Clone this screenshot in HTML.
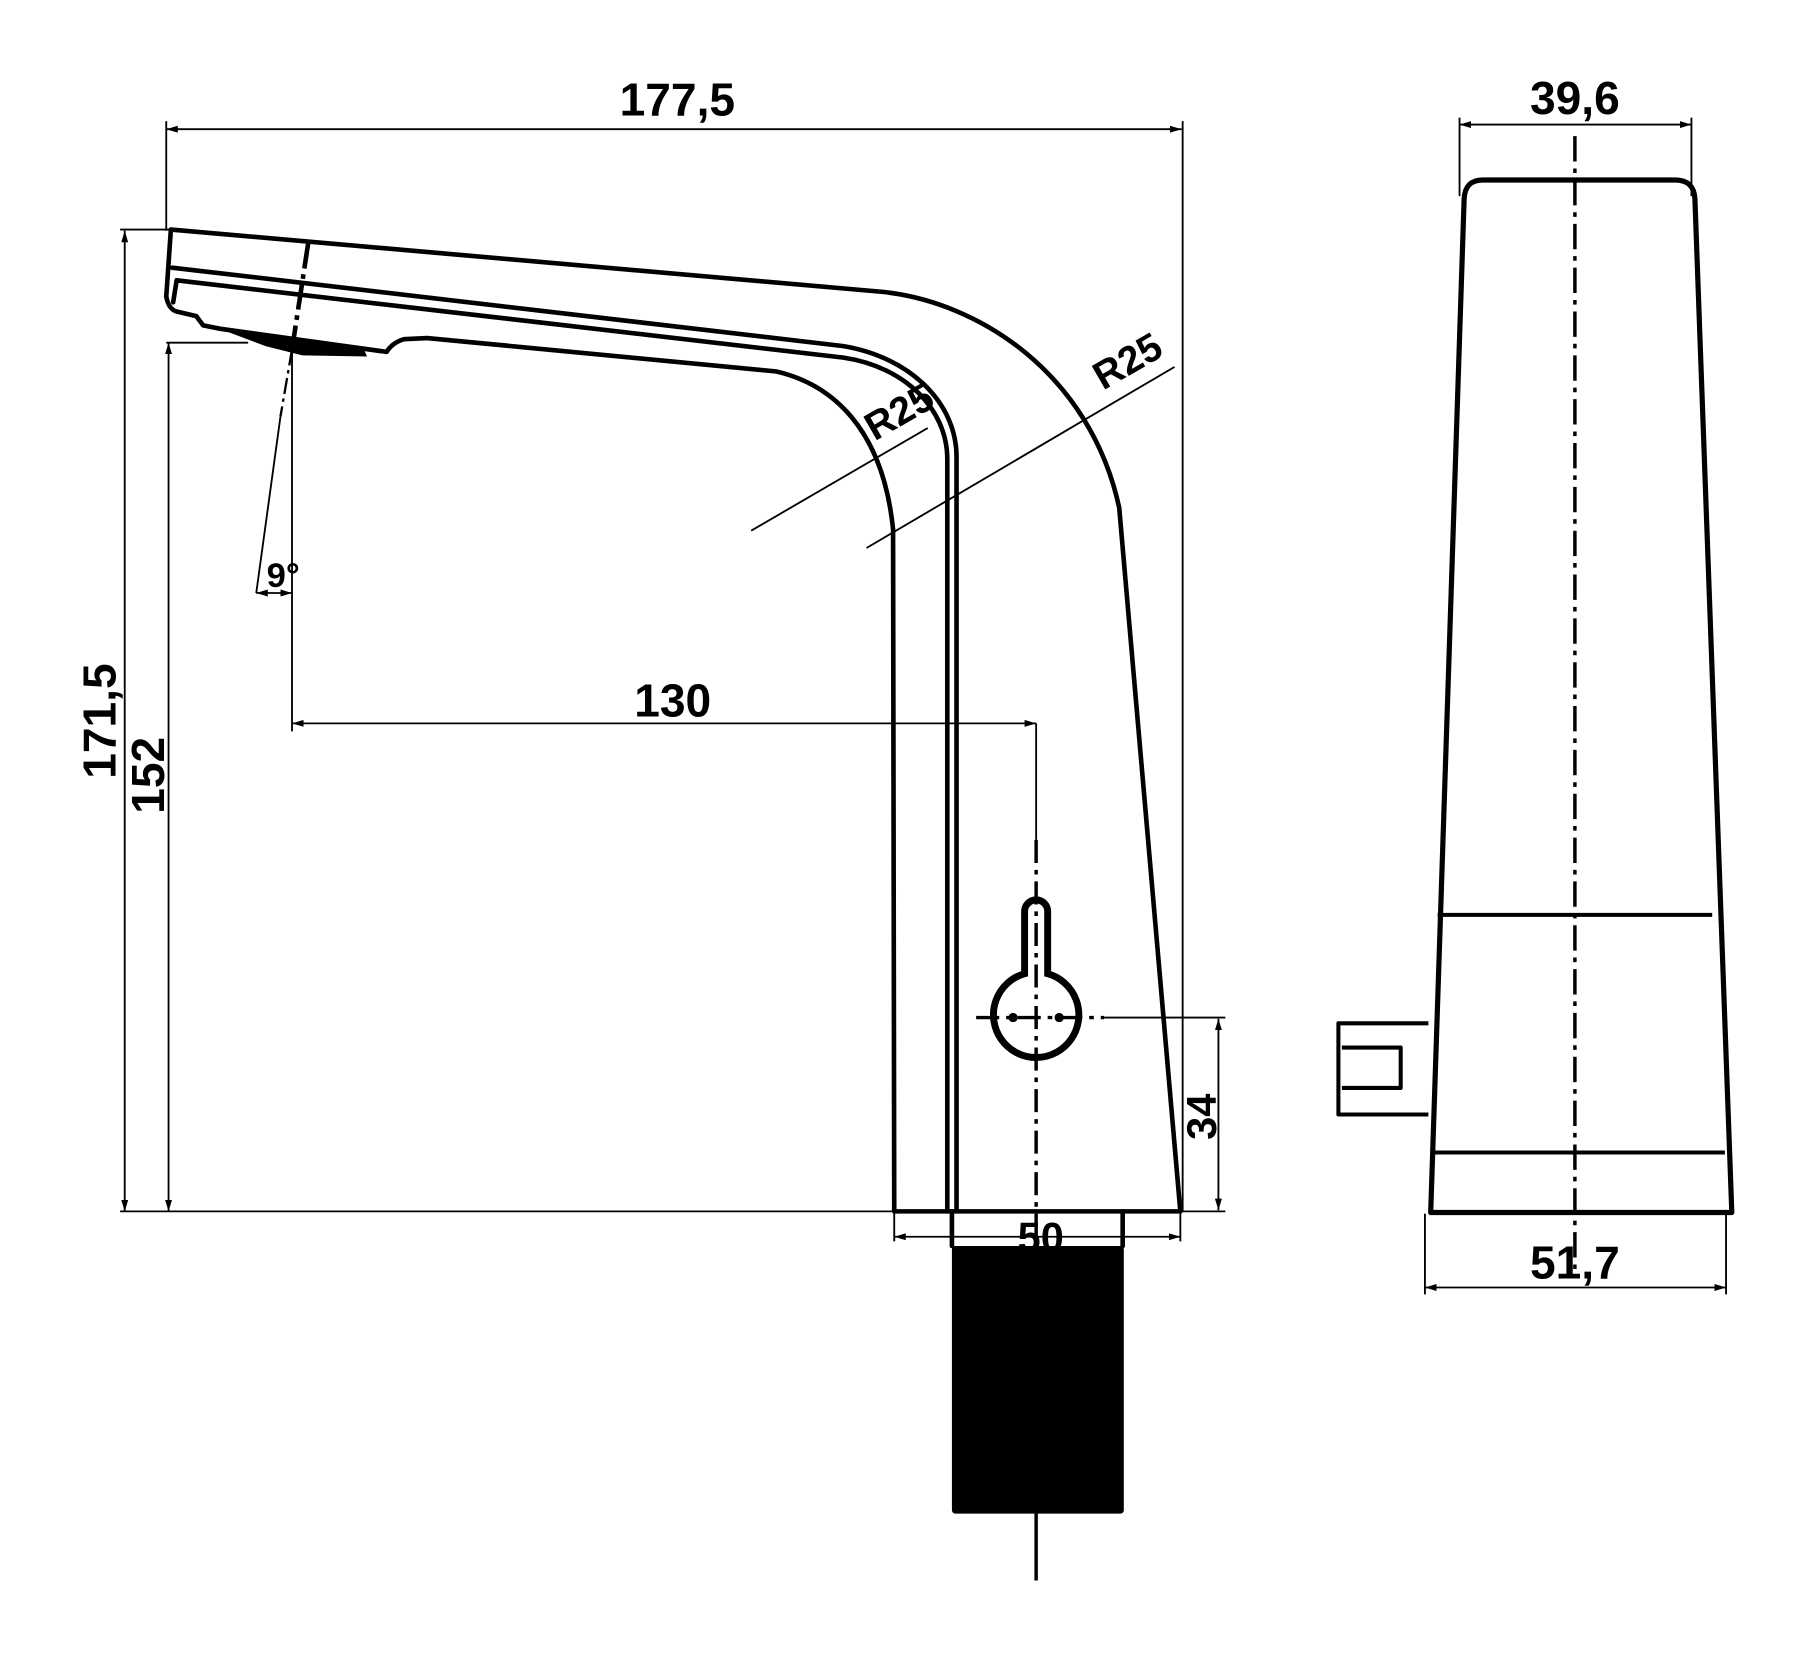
<!DOCTYPE html>
<html><head><meta charset="utf-8"><style>
html,body{margin:0;padding:0;background:#fff;}
svg{display:block;}
text{font-family:"Liberation Sans",Arial,sans-serif;fill:#000;font-weight:bold;}
</style></head><body>
<svg width="1800" height="1659" viewBox="0 0 1560 1438" xmlns="http://www.w3.org/2000/svg">
<defs>
<marker id="ar" viewBox="0 0 10 6" refX="10" refY="3" markerWidth="10" markerHeight="6" orient="auto-start-reverse" markerUnits="userSpaceOnUse"><path d="M0,0 L10,3 L0,6 z" fill="#000"/></marker>
</defs>
<rect width="1560" height="1438" fill="#fff"/>
<g fill="none" stroke="#000" stroke-width="1.6">
<line x1="144" y1="112" x2="1024" y2="112" marker-start="url(#ar)" marker-end="url(#ar)"/>
<line x1="144" y1="105" x2="144" y2="200"/>
<line x1="1025" y1="105" x2="1025" y2="1050"/>
<line x1="108" y1="200" x2="108" y2="1050" marker-start="url(#ar)" marker-end="url(#ar)"/>
<line x1="104" y1="199" x2="148" y2="199"/>
<line x1="146" y1="297" x2="146" y2="1050" marker-start="url(#ar)" marker-end="url(#ar)"/>
<line x1="144" y1="297" x2="215" y2="297"/>
<line x1="104" y1="1050" x2="775" y2="1050"/>
<line x1="253" y1="627" x2="898" y2="627" marker-start="url(#ar)" marker-end="url(#ar)"/>
<line x1="253" y1="303" x2="253" y2="634"/>
<line x1="898" y1="627" x2="898" y2="728"/>
<line x1="243" y1="361" x2="222" y2="514"/>
<line x1="222" y1="514" x2="253" y2="514" marker-start="url(#ar)" marker-end="url(#ar)"/>
<line x1="651" y1="460" x2="804" y2="371"/>
<line x1="751" y1="475" x2="1018" y2="318"/>
<line x1="957" y1="882" x2="1062" y2="882"/>
<line x1="1056" y1="883" x2="1056" y2="1049" marker-start="url(#ar)" marker-end="url(#ar)"/>
<line x1="1023" y1="1050" x2="1062" y2="1050"/>
<line x1="775" y1="1050" x2="775" y2="1076"/>
<line x1="775" y1="1072" x2="1023" y2="1072" marker-start="url(#ar)" marker-end="url(#ar)"/>
<line x1="1023" y1="1050" x2="1023" y2="1076"/>
<line x1="1265" y1="108" x2="1466" y2="108" marker-start="url(#ar)" marker-end="url(#ar)"/>
<line x1="1265" y1="102" x2="1265" y2="170"/>
<line x1="1466" y1="102" x2="1466" y2="170"/>
<line x1="1235" y1="1116" x2="1496" y2="1116" marker-start="url(#ar)" marker-end="url(#ar)"/>
<line x1="1235" y1="1052" x2="1235" y2="1122"/>
<line x1="1496" y1="1052" x2="1496" y2="1122"/>
</g>
<g fill="none" stroke="#000" stroke-width="4" stroke-linejoin="round" stroke-linecap="round">
<path d="M148,199 L765,253 C850,262 945,325 970,440 L1023,1050"/>
<path d="M148,199 L144,257 Q146,268 153,270 L170,274 L176,282 L191,285 L335,305 Q340,297 350,294 L370,293 L673,322 C720,333 765,370 774,459 L775,1050 L1023,1050"/>
<path d="M149,232 L731,300 C790,310 829,350 829,396 L829,1050"/>
<path d="M150,262 L153,243 L731,310 C785,318 821,355 821,398 L821,1050"/>
<line x1="825" y1="1050" x2="825" y2="1080"/>
<line x1="973" y1="1050" x2="973" y2="1080"/>
</g>
<polygon points="193,286 315,302 318,309 262,308 230,300" fill="#000"/>
<line x1="267" y1="211" x2="253" y2="303" stroke="#000" stroke-width="4" stroke-dasharray="22,5,4,5"/>
<line x1="253" y1="303" x2="243" y2="361" stroke="#000" stroke-width="2" stroke-dasharray="14,4,3,4"/>
<rect x="825" y="1080" width="149" height="232" rx="3" fill="#000"/>
<line x1="898" y1="1312" x2="898" y2="1370" stroke="#000" stroke-width="3"/>
<path d="M888,844 L888,790 A10,10 0 0 1 908,790 L908,844 A37,37 0 1 1 888,844 Z" fill="none" stroke="#000" stroke-width="6"/>
<line x1="898" y1="728" x2="898" y2="1312" stroke="#000" stroke-width="3" stroke-dasharray="20,6,4,6"/>
<line x1="846" y1="882" x2="957" y2="882" stroke="#000" stroke-width="3" stroke-dasharray="20,6,4,6"/>
<circle cx="878" cy="882" r="4" fill="#000"/><circle cx="918" cy="882" r="4" fill="#000"/>
<g fill="none" stroke="#000" stroke-width="4.5" stroke-linejoin="round">
<path d="M1240,1051 L1269,172 Q1270,156 1285,156 L1452,156 Q1468,156 1469,172 L1501,1051 Z"/>
<line x1="1246" y1="793" x2="1484" y2="793" stroke-width="3.5"/>
<line x1="1240" y1="999" x2="1495" y2="999" stroke-width="3.5"/>
<path d="M1238,887 L1160,887 L1160,966 L1238,966" stroke-width="3.5"/>
<path d="M1163,908 L1214,908 L1214,943 L1163,943" stroke-width="3.5"/>
</g>
<line x1="1365" y1="118" x2="1365" y2="1102" stroke="#000" stroke-width="3" stroke-dasharray="22,6,4,6"/>
<g font-size="40">
<text x="587" y="100" text-anchor="middle">177,5</text>
<text x="1365" y="99" text-anchor="middle">39,6</text>
<text x="583" y="621" text-anchor="middle">130</text>
<text x="1365" y="1108" text-anchor="middle">51,7</text>
<text transform="translate(100,625) rotate(-90)" text-anchor="middle">171,5</text>
<text transform="translate(142,672) rotate(-90)" text-anchor="middle">152</text>
<text transform="translate(1054,968) rotate(-90)" text-anchor="middle" font-size="36">34</text>
</g>
<text x="902" y="1085" text-anchor="middle" font-size="36">50</text>
<text x="231" y="509" font-size="30">9°</text>
<text transform="translate(785,367) rotate(-30)" text-anchor="middle" font-size="34">R25</text>
<text transform="translate(983,323) rotate(-30)" text-anchor="middle" font-size="34">R25</text>
</svg>
</body></html>
